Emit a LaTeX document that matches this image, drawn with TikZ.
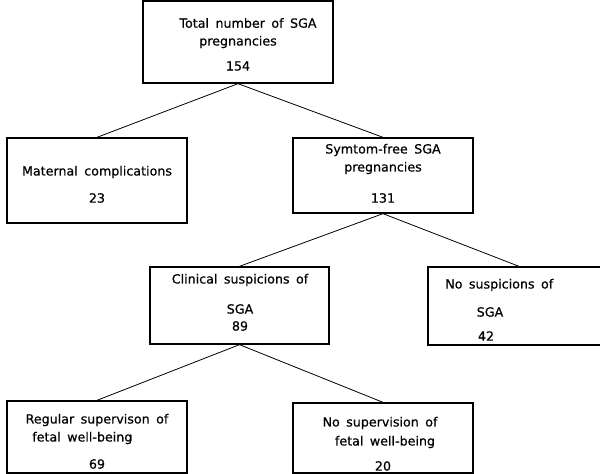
\documentclass[tikz,border=0pt]{standalone}
\usepackage{fontspec}
\setmainfont{DejaVu Sans}[WordSpace=1.6,FakeBold=0.6]
\usepackage{xcolor}

\tikzset{
  sgabox/.style={draw, line width=1pt, inner sep=0pt},
  sgatext/.style={font=\fontsize{9.5}{11}\selectfont, inner sep=0pt},
  sgaline/.style={line width=0.6pt}
}

\begin{document}
\begin{tikzpicture}[x=0.75pt,y=0.75pt,yscale=-1,xscale=1]
\clip (0,0) rectangle (600,474);
\useasboundingbox (0,0) rectangle (600,474);

%Shape: Rectangle (total)
\node [sgabox, minimum width=142.5pt, minimum height=61.5pt] (total) at (238,42) {};
%Shape: Rectangle (maternal)
\node [sgabox, minimum width=135pt, minimum height=63.75pt] (maternal) at (97,180.5) {};
%Shape: Rectangle (symptomfree)
\node [sgabox, minimum width=135pt, minimum height=56.25pt] (symptomfree) at (383,175.5) {};
%Shape: Rectangle (clinical)
\node [sgabox, minimum width=134.25pt, minimum height=57.75pt] (clinical) at (239.5,305.5) {};
%Shape: Rectangle (nosusp)
\node [sgabox, minimum width=136.5pt, minimum height=58.5pt] (nosusp) at (519,306) {};
%Shape: Rectangle (regular)
\node [sgabox, minimum width=135pt, minimum height=54pt] (regular) at (97,437) {};
%Shape: Rectangle (nosuperv)
\node [sgabox, minimum width=135pt, minimum height=52.5pt] (nosuperv) at (383,438) {};

%Straight Lines
\draw [sgaline] (total.south) -- (maternal.north) ;
\draw [sgaline] (total.south) -- (symptomfree.north) ;
\draw [sgaline] (symptomfree.south) -- (clinical.north) ;
\draw [sgaline] (symptomfree.south) -- (nosusp.north) ;
\draw [sgaline] (clinical.south) -- (regular.north) ;
\draw [sgaline] (clinical.south) -- (nosuperv.north) ;

% Text Node
\node [sgatext] (totalA) at (248,23) {Total number of SGA};
\node [sgatext] (totalB) at (238,42) {pregnancies};
\node [sgatext] (totalC) at (238,66) {154};
% Text Node
\node [sgatext] (maternalA) at (97,172) {Maternal complications};
\node [sgatext] (maternalB) at (97,198) {23};
% Text Node
\node [sgatext] (symptomA) at (383,150) {Symtom-free SGA};
\node [sgatext] (symptomB) at (383,168) {pregnancies};
\node [sgatext] (symptomC) at (383,198) {131};
% Text Node
\node [sgatext] (clinicalA) at (240,280) {Clinical suspicions of};
\node [sgatext] (clinicalB) at (240,309) {SGA};
\node [sgatext] (clinicalC) at (240,326) {89};
% Text Node
\node [sgatext, anchor=west] (nosuspA) at (445,285) {No suspicions of};
\node [sgatext] (nosuspB) at (490,312) {SGA};
\node [sgatext] (nosuspC) at (486,336) {42};
% Text Node
\node [sgatext] (regularA) at (97,420) {Regular supervison of};
\node [sgatext, anchor=west] (regularB) at (32,438) {fetal well-being};
\node [sgatext] (regularC) at (97,464) {69};
% Text Node
\node [sgatext] (nosupervA) at (380,423) {No supervision of};
\node [sgatext] (nosupervB) at (385,442) {fetal well-being};
\node [sgatext] (nosupervC) at (383,466) {20};

\end{tikzpicture}
\end{document}
